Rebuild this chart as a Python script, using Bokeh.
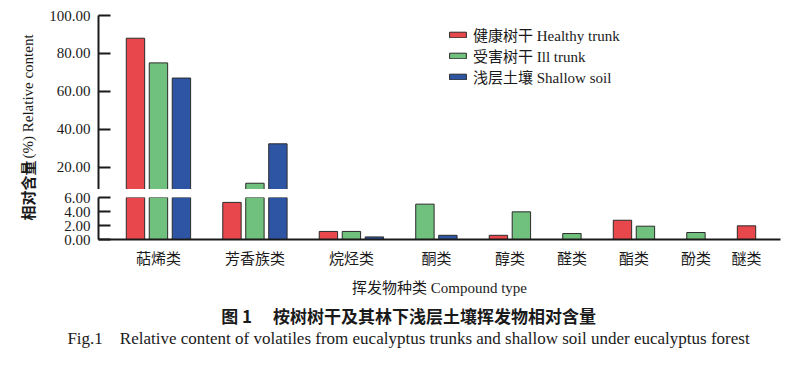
import math
from bokeh.plotting import figure
from bokeh.models import (Range1d, FixedTicker, NumeralTickFormatter, ColumnDataSource,
                          Legend, LegendItem, Label)
from bokeh.layouts import row, column
from bokeh.embed import file_html
from bokeh.resources import INLINE

# ---------------- data ----------------
categories = ["萜烯类", "芳香族类", "烷烃类", "酮类", "醇类", "醛类", "酯类", "酚类", "醚类"]
healthy = [88.0, 5.3, 1.15, 0.0, 0.6, 0.0, 2.75, 0.0, 1.95]
ill = [75.0, 11.5, 1.15, 5.05, 3.95, 0.85, 1.9, 1.0, 0.0]
soil = [67.0, 32.3, 0.37, 0.6, 0.0, 0.0, 0.0, 0.0, 0.0]
series_names = ["健康树干 Healthy trunk", "受害树干 Ill trunk", "浅层土壤 Shallow soil"]
upper_ticks = [20, 40, 60, 80, 100]
lower_ticks = [0, 2, 4, 6]
upper_limits = (8.2, 100)
lower_limits = (0, 6)
y_label_cn = "相对含量"
y_label_en = "(%) Relative content"
x_label = "挥发物种类 Compound type"
caption_cn = "图 1　  桉树树干及其林下浅层土壤挥发物相对含量"
caption_en = "Fig.1\u2002\u2002Relative content of volatiles from eucalyptus trunks and shallow soil under eucalyptus forest"

# ---------------- style ----------------
colors = ["#E8474B", "#70C07E", "#2D55A4"]
SERIF = "'Liberation Serif', 'Noto Sans CJK SC'"
CJK = "'Noto Sans CJK SC'"
BAR_W = 0.8
GROUP_GAP = 1.2
PAD_L, PAD_R = 1.61, 1.48
INK = "#1a1a1a"

# bars are packed: only non-zero values take a slot
xs = [[], [], []]
tops = [[], [], []]
centers = []
pos = 0.0
all_series = (healthy, ill, soil)
for i, cat in enumerate(categories):
    placed = []
    for s, vals in enumerate(all_series):
        v = vals[i]
        if v > 0:
            xs[s].append(pos)
            tops[s].append(v)
            placed.append(pos)
            pos += 1
    centers.append(round(sum(placed) / len(placed), 4))
    pos += GROUP_GAP
last = pos - GROUP_GAP - 1
x_range = Range1d(-PAD_L, last + PAD_R)

# upper panel shows only bars that reach it; lower panel bars are cut above its top
up_src = []
lo_src = []
for s in range(3):
    ux = [x for x, t in zip(xs[s], tops[s]) if t > upper_limits[0]]
    ut = [t for t in tops[s] if t > upper_limits[0]]
    up_src.append(ColumnDataSource(dict(x=ux, top=ut)))
    lo_src.append(ColumnDataSource(dict(x=xs[s], top=[min(t, lower_limits[1] + 2) for t in tops[s]])))

W = 751
common = dict(width=W, x_range=x_range, output_backend="svg", toolbar_location=None,
              min_border_left=54, min_border_right=15, outline_line_color=None,
              background_fill_color="white", border_fill_color="white")

upper = figure(height=189, y_range=Range1d(*upper_limits), min_border_top=15,
               min_border_bottom=0, x_axis_location=None, **common)
lower = figure(height=111, y_range=Range1d(*lower_limits), min_border_top=8,
               min_border_bottom=61, **common)

renderers = []
for p, srcs, bottom in ((upper, up_src, upper_limits[0] - 5), (lower, lo_src, 0)):
    rs = []
    for s in range(3):
        r = p.vbar(x="x", top="top", bottom=bottom, width=BAR_W, source=srcs[s],
                   fill_color=colors[s], line_color="#2b2b2b", line_width=1)
        rs.append(r)
    renderers.append(rs)
    p.xgrid.visible = False
    p.ygrid.visible = False
    ax = p.yaxis[0]
    ax.formatter = NumeralTickFormatter(format="0.00")
    ax.axis_line_width = 2
    ax.axis_line_color = INK
    ax.major_tick_line_width = 2
    ax.major_tick_line_color = INK
    ax.major_tick_in = 12
    ax.major_tick_out = 0
    ax.minor_tick_line_color = None
    ax.major_label_standoff = 8
    ax.major_label_text_font = SERIF
    ax.major_label_text_font_size = "15px"
    ax.major_label_text_color = INK

upper.yaxis[0].ticker = FixedTicker(ticks=upper_ticks)
lower.yaxis[0].ticker = FixedTicker(ticks=lower_ticks)

xa = lower.xaxis[0]
xa.ticker = FixedTicker(ticks=centers)
xa.major_label_overrides = {c: n for c, n in zip(centers, categories)}
xa.major_tick_line_color = None
xa.minor_tick_line_color = None
xa.axis_line_width = 2
xa.axis_line_color = INK
xa.major_label_standoff = 1
xa.major_label_text_font = CJK
xa.major_label_text_font_size = "15px"
xa.major_label_text_color = INK
xa.axis_label = x_label
xa.axis_label_text_font = SERIF
xa.axis_label_text_font_size = "15px"
xa.axis_label_text_font_style = "normal"
xa.axis_label_text_color = INK
xa.axis_label_standoff = 9

legend = Legend(items=[LegendItem(label=series_names[s], renderers=[renderers[0][s]]) for s in range(3)],
                location=(349, 102), margin=0, padding=0, spacing=0,
                glyph_width=21, glyph_height=7, label_height=20, label_standoff=5,
                label_text_font=SERIF, label_text_font_size="15px", label_text_color=INK,
                border_line_color=None, background_fill_alpha=0)
upper.add_layout(legend)

# y-axis title in a narrow strip on the left
LH = 300
lab = figure(width=44, height=LH, output_backend="svg", toolbar_location=None,
             x_axis_location=None, y_axis_location=None, min_border=0,
             outline_line_color=None, x_range=Range1d(0, 1), y_range=Range1d(0, 1))
lab.xgrid.visible = False
lab.ygrid.visible = False
lab.add_layout(Label(x=27, y=LH - 220, x_units="screen", y_units="screen",
                     text=y_label_cn, angle=math.pi / 2, text_font=CJK,
                     text_font_size="15px", text_font_style="bold",
                     text_align="left", text_baseline="middle", text_color=INK))
lab.add_layout(Label(x=27, y=LH - 220 + 62, x_units="screen", y_units="screen",
                     text=y_label_en, angle=math.pi / 2, text_font=SERIF,
                     text_font_size="15px",
                     text_align="left", text_baseline="middle", text_color=INK))

# captions in a strip below
CH = 60
cap = figure(width=795, height=CH, output_backend="svg", toolbar_location=None,
             x_axis_location=None, y_axis_location=None, min_border=0,
             outline_line_color=None, x_range=Range1d(0, 1), y_range=Range1d(0, 1))
cap.xgrid.visible = False
cap.ygrid.visible = False
cap.add_layout(Label(x=410, y=CH - 15, x_units="screen", y_units="screen", text=caption_cn,
                     text_font=CJK, text_font_size="17px", text_font_style="bold",
                     text_align="center", text_baseline="middle", text_color=INK))
cap.add_layout(Label(x=408, y=CH - 38, x_units="screen", y_units="screen", text=caption_en,
                     text_font=SERIF, text_font_size="17px",
                     text_align="center", text_baseline="middle", text_color=INK))

layout = column(row(lab, column(upper, lower)), cap)
open("out.html", "w").write(file_html(layout, INLINE))
